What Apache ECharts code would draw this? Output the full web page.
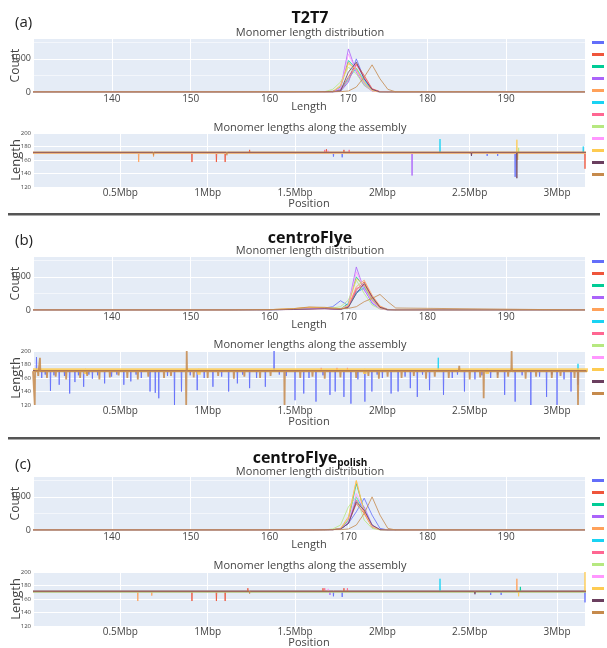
<!DOCTYPE html>
<html>
<head>
<meta charset="utf-8">
<script src="https://cdn.jsdelivr.net/npm/echarts@6/dist/echarts.min.js"></script>
<style>
  html, body { margin: 0; padding: 0; background: #fff; }
  #chart { width: 607px; height: 648px; }
</style>
</head>
<body>
<div id="chart"></div>
<script>
  var monomers = ['Monomer 1', 'Monomer 2', 'Monomer 3', 'Monomer 4', 'Monomer 5', 'Monomer 6',
    'Monomer 7', 'Monomer 8', 'Monomer 9', 'Monomer 10', 'Monomer 11', 'Monomer 12'];
  var palette = ['#636efa', '#EF553B', '#00cc96', '#ab63fa', '#FFA15A', '#19d3f3',
    '#FF6692', '#B6E880', '#FF97FF', '#FECB52', '#6b3f5f', '#c68a4c'];

  // monomer length (x) for the distribution plots
  var lengthBins = [130, 155, 160, 163, 165, 167, 168, 169, 170, 171, 172, 173, 174, 175, 176, 200];

  var countsT2T7 = [
    [0, 0, 0, 0, 0, 0, 0, 20, 300, 1000, 400, 60, 5, 0, 0, 0],
    [0, 0, 0, 0, 0, 0, 5, 60, 450, 850, 500, 100, 10, 0, 0, 0],
    [0, 0, 0, 0, 0, 0, 10, 150, 950, 700, 250, 40, 5, 0, 0, 0],
    [0, 0, 0, 0, 0, 0, 5, 100, 1300, 600, 200, 30, 0, 0, 0, 0],
    [0, 0, 0, 0, 0, 0, 10, 200, 900, 650, 300, 50, 5, 0, 0, 0],
    [0, 0, 0, 0, 0, 0, 0, 50, 400, 720, 350, 60, 0, 0, 0, 0],
    [0, 0, 0, 0, 0, 0, 0, 40, 350, 820, 450, 80, 10, 0, 0, 0],
    [0, 0, 0, 0, 0, 10, 80, 300, 750, 550, 200, 40, 0, 0, 0, 0],
    [0, 0, 0, 0, 0, 0, 5, 120, 1150, 650, 250, 30, 0, 0, 0, 0],
    [0, 0, 0, 0, 0, 0, 10, 180, 850, 700, 300, 40, 0, 0, 0, 0],
    [0, 0, 0, 0, 5, 10, 20, 30, 600, 900, 400, 80, 0, 0, 0, 0],
    [0, 0, 5, 10, 10, 5, 5, 10, 30, 150, 450, 820, 400, 80, 5, 0]
  ];
  var countsCentroFlye = [
    [0, 0, 5, 20, 40, 60, 100, 280, 130, 550, 650, 200, 40, 5, 0, 0],
    [0, 0, 5, 20, 40, 50, 40, 30, 100, 600, 850, 400, 100, 10, 0, 0],
    [0, 0, 5, 20, 40, 50, 40, 30, 200, 1000, 700, 300, 60, 5, 0, 0],
    [0, 0, 5, 20, 40, 50, 30, 20, 150, 1300, 600, 250, 50, 0, 0, 0],
    [0, 0, 10, 40, 80, 70, 50, 30, 120, 700, 900, 450, 120, 20, 0, 0],
    [0, 0, 5, 20, 40, 50, 40, 30, 100, 500, 700, 350, 80, 10, 0, 0],
    [0, 0, 5, 15, 30, 40, 30, 25, 100, 650, 750, 350, 80, 10, 0, 0],
    [0, 0, 5, 20, 40, 50, 60, 100, 300, 900, 500, 150, 30, 0, 0, 0],
    [0, 0, 5, 20, 40, 50, 40, 30, 150, 1150, 650, 250, 40, 0, 0, 0],
    [0, 0, 10, 40, 80, 70, 50, 30, 150, 950, 750, 300, 60, 5, 0, 0],
    [0, 0, 5, 15, 30, 40, 30, 20, 80, 500, 800, 400, 80, 5, 0, 0],
    [0, 0, 10, 40, 90, 80, 60, 40, 50, 100, 250, 350, 470, 250, 60, 0]
  ];
  var countsPolish = [
    [0, 0, 0, 0, 0, 5, 10, 30, 200, 550, 960, 450, 50, 0, 0, 0],
    [0, 0, 0, 0, 0, 5, 10, 30, 200, 800, 500, 100, 10, 0, 0, 0],
    [0, 0, 0, 0, 0, 5, 10, 40, 300, 1400, 600, 100, 10, 0, 0, 0],
    [10, 0, 0, 0, 0, 5, 10, 30, 200, 900, 700, 150, 10, 0, 0, 0],
    [0, 0, 0, 0, 0, 5, 10, 50, 400, 1480, 500, 80, 5, 0, 0, 0],
    [0, 0, 0, 0, 0, 5, 10, 30, 200, 1000, 600, 100, 10, 0, 0, 0],
    [0, 0, 0, 0, 0, 5, 10, 30, 250, 900, 550, 100, 10, 0, 0, 0],
    [0, 0, 0, 0, 0, 5, 30, 150, 700, 1000, 300, 50, 0, 0, 0, 0],
    [0, 0, 0, 0, 0, 5, 10, 30, 250, 1100, 600, 100, 10, 0, 0, 0],
    [0, 0, 0, 0, 0, 5, 10, 40, 350, 1500, 550, 100, 10, 0, 0, 0],
    [0, 0, 0, 0, 0, 5, 10, 30, 200, 850, 600, 150, 10, 0, 0, 0],
    [0, 0, 0, 0, 0, 0, 5, 10, 30, 150, 500, 1000, 450, 50, 0, 0]
  ];

  // usual monomer length along the assembly, and outliers as [position Mbp, length]
  var baseT2T7 = [171, 171, 170, 170, 170, 171, 171, 170, 170, 170, 171, 172];
  var spikesT2T7 = [
    [[1.72, 165], [1.77, 164], [2.60, 166], [2.66, 166], [2.76, 135]],
    [[0.91, 157], [1.05, 157], [1.10, 157], [1.24, 175], [1.68, 176], [1.78, 175], [3.16, 147]],
    [[1.15, 168], [2.00, 168]],
    [[2.17, 137]],
    [[0.605, 157], [0.69, 165], [1.20, 168]],
    [[2.33, 191], [3.15, 180]],
    [[1.67, 175], [1.81, 175]],
    [[2.78, 178]],
    [[1.69, 174]],
    [[2.77, 190], [2.775, 160]],
    [[2.51, 166], [2.77, 133]],
    [[0.69, 167], [1.11, 167]]
  ];

  var baseCentroFlye = [171, 171, 171, 171, 171, 171, 171, 171, 171, 172, 171, 170];
  var spikesCentroFlye = [
    [[0.02, 191], [0.05, 160], [0.07, 165], [0.10, 141], [0.12, 164], [0.15, 150], [0.18, 163],
     [0.21, 137], [0.24, 154], [0.26, 164], [0.29, 147], [0.32, 165], [0.34, 159], [0.37, 164],
     [0.41, 152], [0.45, 162], [0.48, 165], [0.52, 150], [0.56, 155], [0.59, 165], [0.62, 160],
     [0.67, 140], [0.70, 138], [0.72, 130], [0.77, 163], [0.81, 120], [0.85, 140], [0.90, 164],
     [0.94, 142], [0.98, 160], [1.03, 147], [1.08, 162], [1.12, 140], [1.17, 152], [1.20, 165],
     [1.24, 145], [1.28, 160], [1.33, 147], [1.38, 200], [1.41, 165], [1.45, 163], [1.50, 127],
     [1.55, 137], [1.58, 160], [1.62, 125], [1.66, 164], [1.70, 135], [1.73, 140], [1.78, 132],
     [1.82, 122], [1.86, 158], [1.90, 125], [1.94, 140], [1.97, 165], [2.00, 160], [2.05, 137],
     [2.09, 140], [2.13, 162], [2.16, 145], [2.20, 132], [2.23, 165], [2.27, 142], [2.35, 135],
     [2.40, 160], [2.43, 165], [2.47, 140], [2.53, 158], [2.57, 164], [2.62, 160], [2.66, 165],
     [2.70, 135], [2.76, 125], [2.80, 164], [2.85, 120], [2.90, 162], [2.94, 132], [2.97, 165],
     [3.00, 120], [3.04, 158], [3.08, 140], [3.12, 150]],
    [],
    [],
    [],
    [],
    [[2.32, 190], [3.12, 181]],
    [[1.65, 175], [1.74, 175], [1.80, 175]],
    [],
    [],
    [[0.30, 166], [0.95, 165], [1.90, 166], [2.60, 166]],
    [],
    [[0.01, 120], [0.03, 163], [0.04, 190], [0.08, 160], [0.13, 162], [0.19, 158], [0.27, 160],
     [0.31, 163], [0.38, 158], [0.44, 161], [0.49, 164], [0.54, 160], [0.60, 158], [0.66, 162],
     [0.75, 160], [0.79, 163], [0.877, 120], [0.88, 200], [0.92, 161], [1.00, 160], [1.06, 163],
     [1.15, 159], [1.21, 162], [1.30, 160], [1.36, 163], [1.44, 120], [1.53, 160], [1.60, 162],
     [1.67, 159], [1.76, 161], [1.85, 160], [1.92, 163], [1.98, 159], [2.03, 162], [2.11, 160],
     [2.18, 163], [2.25, 159], [2.30, 162], [2.38, 160], [2.44, 178], [2.50, 158], [2.56, 161],
     [2.58, 130], [2.66, 160], [2.72, 162], [2.74, 200], [2.82, 159], [2.88, 162], [2.97, 160],
     [3.02, 163], [3.10, 160], [3.12, 120]]
  ];

  var basePolish = [172, 171, 171, 171, 171, 171, 171, 170, 171, 171, 171, 172];
  var spikesPolish = [
    [[1.72, 164], [1.77, 163], [2.62, 166], [2.68, 166], [3.16, 155]],
    [[0.91, 157], [1.05, 157], [1.10, 157], [1.23, 176], [1.66, 176], [1.78, 176]],
    [[2.79, 178]],
    [[1.70, 166]],
    [[0.60, 157], [0.68, 165], [2.77, 190]],
    [[2.33, 190]],
    [[1.67, 176], [1.80, 176]],
    [[2.00, 168]],
    [[1.69, 175]],
    [[2.78, 164], [3.16, 200]],
    [[2.53, 167]],
    [[1.24, 168]]
  ];

  function track(base, spikes) {
    var pts = [[0, base]];
    spikes.slice().sort(function (a, b) { return a[0] - b[0]; }).forEach(function (s) {
      pts.push([s[0] - 0.002, base], s, [s[0] + 0.002, base]);
    });
    pts.push([3.2, base]);
    return pts;
  }

  var distData = [countsT2T7, countsCentroFlye, countsPolish];
  var trackBase = [baseT2T7, baseCentroFlye, basePolish];
  var trackSpikes = [spikesT2T7, spikesCentroFlye, spikesPolish];
  var gridTops = [[39, 133], [257, 351], [477, 572]];

  var grids = [], xAxes = [], yAxes = [], series = [];
  var tickColor = '#444';
  var whiteLine = { show: true, lineStyle: { color: '#fff', width: 1 } };

  gridTops.forEach(function (t, p) {
    grids.push({ left: 33, right: 22, top: t[0], height: 53, show: true, backgroundColor: '#E5ECF6',
      borderWidth: 0, outerBoundsMode: 'none', containLabel: false });
    grids.push({ left: 33, right: 22, top: t[1], height: 54, show: true, backgroundColor: '#E5ECF6',
      borderWidth: 0, outerBoundsMode: 'none', containLabel: false });

    xAxes.push({
      type: 'value', gridIndex: 2 * p, min: 130, max: 200, interval: 10,
      name: 'Length', nameLocation: 'middle', nameGap: 9, nameMoveOverlap: false,
      nameTextStyle: { fontSize: 11, color: tickColor },
      axisLine: { show: false }, axisTick: { show: false },
      axisLabel: { showMinLabel: false, showMaxLabel: false, fontSize: 10, color: tickColor, margin: 2 },
      splitLine: whiteLine
    });
    xAxes.push({
      type: 'value', gridIndex: 2 * p + 1, min: 0, max: 3.16, interval: 0.5,
      name: 'Position', nameLocation: 'middle', nameGap: 11, nameMoveOverlap: false,
      nameTextStyle: { fontSize: 11, color: tickColor },
      axisLine: { show: false }, axisTick: { show: false },
      axisLabel: {
        showMinLabel: false, showMaxLabel: false, fontSize: 10, color: tickColor, margin: 1,
        formatter: function (v) { return v === 0 ? '' : v + 'Mbp'; }
      },
      splitLine: whiteLine
    });
    yAxes.push({
      type: 'value', gridIndex: 2 * p, min: 0, max: 1600, interval: 1000,
      name: 'Count', nameLocation: 'middle', nameGap: 11, nameMoveOverlap: false,
      nameTextStyle: { fontSize: 12, color: tickColor },
      axisLine: { show: false }, axisTick: { show: false },
      axisLabel: { showMaxLabel: false, fontSize: 9, color: tickColor, margin: 2,
        formatter: function (v) { return String(v); } },
      splitLine: { show: true, showMaxLine: false, lineStyle: { color: '#fff', width: 1 } },
      minorTick: { show: false, splitNumber: 2 },
      minorSplitLine: { show: true, lineStyle: { color: '#f3f6fb', width: 1 } }
    });
    yAxes.push({
      type: 'value', gridIndex: 2 * p + 1, min: 120, max: 200, interval: 20,
      name: 'Length', nameLocation: 'middle', nameGap: 10, nameMoveOverlap: false,
      nameTextStyle: { fontSize: 13, color: tickColor },
      axisLine: { show: false }, axisTick: { show: false },
      axisLabel: { fontSize: 6, color: tickColor, margin: 2 },
      splitLine: whiteLine
    });

    distData[p].forEach(function (counts, m) {
      series.push({
        type: 'line', name: monomers[m], xAxisIndex: 2 * p, yAxisIndex: 2 * p,
        data: lengthBins.map(function (x, i) { return [x, counts[i]]; }),
        showSymbol: false, silent: true,
        lineStyle: { width: 1, color: palette[m], opacity: 0.8 },
        itemStyle: { color: palette[m] }
      });
    });
    trackSpikes[p].forEach(function (spikes, m) {
      var w = 1;
      if (p === 1 && m === 9) w = 3.5;
      if (p === 1 && m === 11) w = 1.8;
      series.push({
        type: 'line', name: monomers[m], xAxisIndex: 2 * p + 1, yAxisIndex: 2 * p + 1,
        data: track(trackBase[p][m], spikes),
        showSymbol: false, silent: true,
        lineStyle: { width: w, color: palette[m], opacity: 0.85 },
        itemStyle: { color: palette[m] }
      });
    });
  });

  var legends = [41, 260, 479].map(function (top) {
    return {
      data: monomers, orient: 'vertical', left: 592, top: top, padding: 0,
      itemWidth: 12, itemHeight: 3, itemGap: 9, selectedMode: false,
      icon: 'rect',
      formatter: function () { return ''; },
      textStyle: { fontSize: 2, lineHeight: 2 }
    };
  });

  var small = { fontSize: 11, fontWeight: 'normal', color: '#444' };
  var big = { fontSize: 16, fontWeight: 'bold', color: '#111' };
  var panelLabel = { fontSize: 15, fontWeight: 'normal', color: '#222' };

  var titles = [
    { text: '(a)', left: 15, top: 15, textStyle: panelLabel },
    { text: 'T2T7', left: 310, top: 10, textAlign: 'center', textStyle: big },
    { text: 'Monomer length distribution', left: 310, top: 27, textAlign: 'center', textStyle: small },
    { text: 'Monomer lengths along the assembly', left: 310, top: 122, textAlign: 'center', textStyle: small },
    { text: '(b)', left: 15, top: 233, textStyle: panelLabel },
    { text: 'centroFlye', left: 310, top: 230, textAlign: 'center', textStyle: big },
    { text: 'Monomer length distribution', left: 310, top: 245, textAlign: 'center', textStyle: small },
    { text: 'Monomer lengths along the assembly', left: 310, top: 339, textAlign: 'center', textStyle: small },
    { text: '(c)', left: 15, top: 457, textStyle: panelLabel },
    {
      text: '{m|centroFlye}{s|polish}', left: 310, top: 450, textAlign: 'center',
      textStyle: {
        rich: {
          m: { fontSize: 16, fontWeight: 'bold', color: '#111' },
          s: { fontSize: 10, fontWeight: 'bold', color: '#111', verticalAlign: 'bottom', padding: [0, 0, -2, 0] }
        }
      }
    },
    { text: 'Monomer length distribution', left: 310, top: 466, textAlign: 'center', textStyle: small },
    { text: 'Monomer lengths along the assembly', left: 310, top: 560, textAlign: 'center', textStyle: small }
  ];
  titles.forEach(function (t) { t.padding = 0; });

  var chart = echarts.init(document.getElementById('chart'));
  chart.setOption({
    animation: false,
    textStyle: { fontFamily: 'Open Sans' },
    title: titles,
    legend: legends,
    grid: grids,
    xAxis: xAxes,
    yAxis: yAxes,
    series: series,
    graphic: [
      { type: 'rect', shape: { x: 8, y: 213, width: 592, height: 2.5 }, style: { fill: '#555' } },
      { type: 'rect', shape: { x: 8, y: 437, width: 592, height: 2.5 }, style: { fill: '#555' } }
    ]
  });
</script>
</body>
</html>
